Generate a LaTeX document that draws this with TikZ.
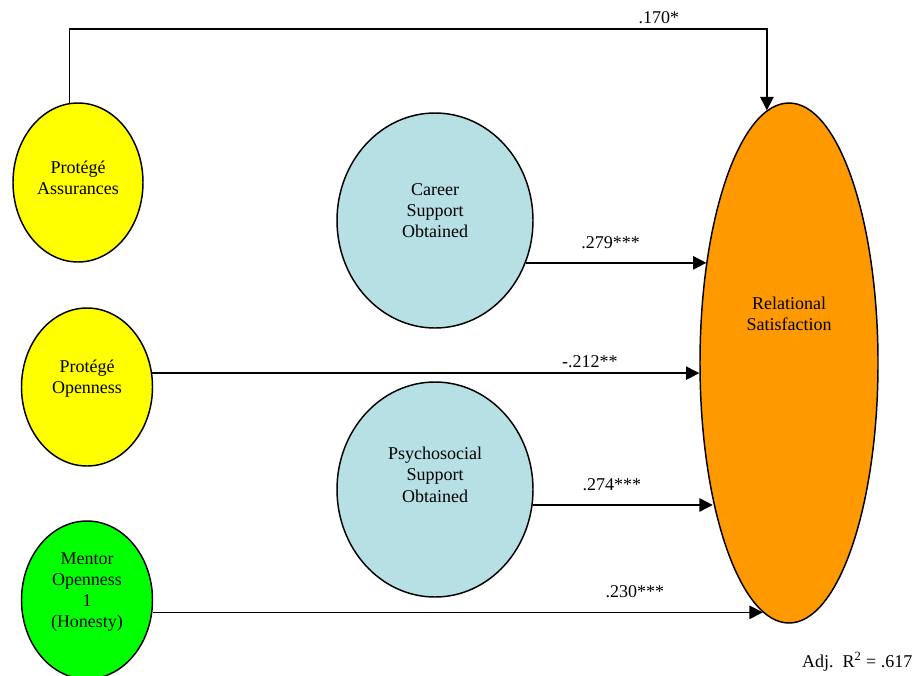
\documentclass[tikz,border=0pt]{standalone}
\usepackage{fontspec}
\setmainfont{Liberation Serif}
\usepackage{tikz}
\usetikzlibrary{arrows.meta,positioning,shapes.geometric,calc}
\definecolor{protyellow}{HTML}{FFFF00}
\definecolor{mentgreen}{HTML}{00FF00}
\definecolor{suppblue}{HTML}{B7E0E4}
\definecolor{satorange}{HTML}{FF9900}

\begin{document}
\begin{tikzpicture}[x=0.75pt,y=-0.75pt,font=\fontsize{13.5}{15.8}\selectfont,
  var/.style={ellipse,draw,line width=1.1pt,inner sep=0pt},
  txt/.style={align=center},
  arr/.style={line width=1.1pt,-{Triangle[length=10pt,width=10pt]}},
  coef/.style={above=7pt},
  coefnear/.style={above}]
  \useasboundingbox (0,0) rectangle (920,675);
  \clip (0,0) rectangle (920,675);
  % predictors
  \node[var,fill=protyellow,minimum width=97.5pt,minimum height=119.25pt,
    label={[txt,yshift=3.8pt]center:Protégé\\Assurances}] (assur) at (78,182.5) {};
  \node[var,fill=protyellow,minimum width=98.25pt,minimum height=118.5pt,
    label={[txt,yshift=6pt]center:Protégé\\Openness}] (open) at (87,387) {};
  \node[var,fill=mentgreen,minimum width=98.25pt,minimum height=118.5pt,
    label={[txt,yshift=6pt]center:Mentor\\Openness\\1\\(Honesty)}] (mentor) at (87,600) {};
  % support obtained
  \node[var,fill=suppblue,minimum width=147pt,minimum height=161.25pt,
    label={[txt,yshift=7.5pt]center:Career\\Support\\Obtained}] (career) at (435,220.5) {};
  \node[var,fill=suppblue,minimum width=147pt,minimum height=161.25pt,
    label={[txt,yshift=11pt]center:Psychosocial\\Support\\Obtained}] (psych) at (435,489.5) {};
  % outcome
  \node[var,fill=satorange,minimum width=133.5pt,minimum height=390pt,
    label={[txt,yshift=37pt]center:Relational\\Satisfaction}] (sat) at (789,363) {};
  % paths
  \coordinate (topline) at (0,29);
  \draw[arr] (assur.96.6) -- (assur.96.6 |- topline)
    -- node[coefnear,pos=0.845]{.170*} (sat.95.2 |- topline) -- (sat.95.2);
  \draw[arr] (career.335.5) -- node[coef,pos=0.47]{.279***} (career.335.5 -| sat.129.1);
  \draw[arr] (open.12.3) -- node[coefnear,pos=0.8]{-.212**} (open.12.3 -| sat.186.4);
  \draw[arr] (psych.351.8) -- node[coef,pos=0.44]{.274***} (psych.351.8 -| sat.241.8);
  \draw[arr] (mentor.east |- sat.264.8) -- node[coef,pos=0.79]{.230***} (sat.264.8);
  % fit
  \node[anchor=east] (adjr) at (917,662) {Adj.\ \ R\textsuperscript{2} = .617};
\end{tikzpicture}
\end{document}
